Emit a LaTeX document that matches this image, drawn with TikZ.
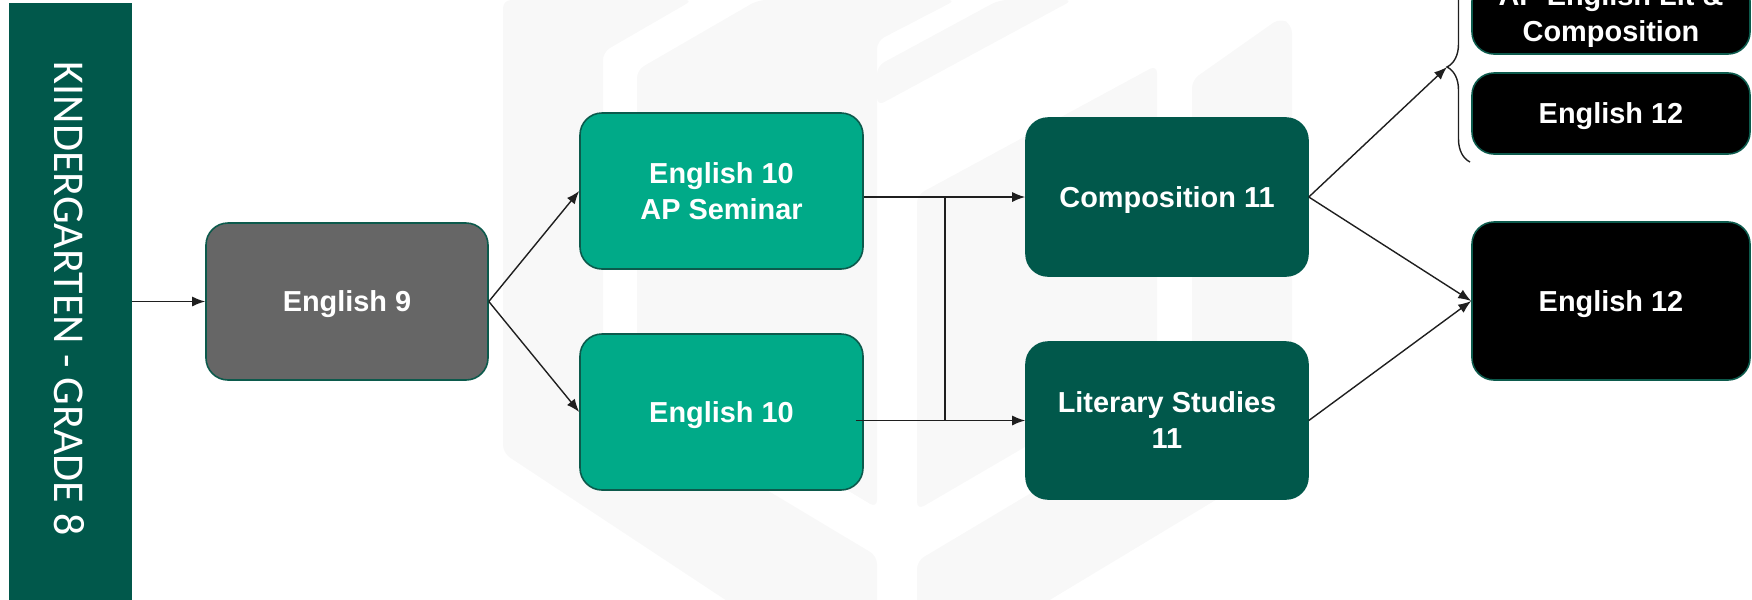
\documentclass[tikz,border=0pt]{standalone}
\usepackage{fontspec}
\setmainfont{Liberation Sans}
\newfontfamily\barfont{Carlito}
\usetikzlibrary{arrows.meta,decorations.pathreplacing}
\definecolor{dkgreen}{RGB}{1,88,75}
\definecolor{teal1}{RGB}{0,170,136}
\definecolor{grey1}{RGB}{102,102,102}
\definecolor{edge1}{RGB}{12,90,76}
\definecolor{wm}{RGB}{248,248,248}
\tikzset{
  box/.style={rounded corners=11pt, draw=edge1, line width=0.8pt, text=white,
    font=\fontsize{14.45}{18}\selectfont\bfseries, align=center, inner sep=0pt},
  oneline/.style={text depth=0pt},
  conn/.style={draw=black!88, line width=0.7pt, -{Latex[length=6.5pt,width=5pt]}},
  plain/.style={draw=black!88, line width=0.7pt},
}
\begin{document}
\begin{tikzpicture}[x=0.5pt,y=-0.5pt]
\useasboundingbox (0,0) rectangle (1752,600);
\clip (0,0) rectangle (1752,600);
% watermark
\begin{scope}[rounded corners=4pt]
\fill[wm] (503,0) -- (693,0) -- (603,52) -- (603,392) -- (877,556) -- (877,700) -- (503,453) -- cycle;
\fill[wm] (637,70) -- (758,0) -- (956,0) -- (877,41) -- (877,508) -- (637,364) -- cycle;
\fill[wm] (1192,80) -- (1280,18) -- (1292,25) -- (1292,454) -- (917,680) -- (917,561) -- (1192,397) -- cycle;
\fill[wm] (917,510) -- (917,195) -- (1157,65) -- (1157,370) -- cycle;
\fill[wm] (877,66) -- (999,0) -- (1073,0) -- (877,106) -- cycle;
\end{scope}
% left bar
\node[fill=dkgreen, minimum width=61.5pt, minimum height=298.5pt, inner sep=0pt] (bar) at (70.5,301.5) {};
\node[rotate=-90, text=white, font=\barfont\fontsize{22}{26}\selectfont] (bartext) at (69,298.5) {KINDERGARTEN - GRADE 8};
% boxes
\node[box, oneline, fill=grey1, minimum width=141pt, minimum height=78.5pt] (e9) at (347,301.5) {English 9};
\node[box, fill=teal1, minimum width=141.5pt, minimum height=78pt] (ap) at (721.5,191) {English 10\\AP Seminar};
\node[box, oneline, fill=teal1, minimum width=141.5pt, minimum height=78pt] (e10) at (721.5,412) {English 10};
\node[box, oneline, fill=dkgreen, draw=dkgreen, minimum width=141pt, minimum height=79pt] (comp) at (1167,197) {Composition 11};
\node[box, fill=dkgreen, draw=dkgreen, minimum width=141pt, minimum height=78.5pt] (lit) at (1167,420.5) {Literary Studies\\11};
\node[box, oneline, fill=black, minimum width=139pt, minimum height=79pt] (e12) at (1611,301) {English 12};
\node[box, fill=black, minimum width=139pt, minimum height=37.5pt] (apl) at (1611,16.5) {AP English Lit \&\\Composition};
\node[box, oneline, fill=black, minimum width=139pt, minimum height=40.5pt] (e12s) at (1611,113.5) {English 12};
% brace
\coordinate (brtop) at (1470,-28);
\coordinate (brbot) at (1470,162);
\coordinate (brtip) at (1447,67);
\draw[plain, decorate, decoration={brace, amplitude=11.5pt}] (brbot) -- (brtop);
% connectors
\coordinate (jx) at (945,0);
\draw[conn] (bar) -- (e9);
\draw[conn] (e9.east) -- (ap.west);
\draw[conn] (e9.east) -- (e10.west);
\draw[conn] (ap.east |- comp.west) -- (comp.west);
\draw[conn] ([xshift=-4pt]e10.east |- lit.west) -- (lit.west);
\draw[plain] (jx |- comp.west) -- (jx |- lit.west);
\draw[conn] (comp.east) -- (brtip);
\draw[conn] (comp.east) -- (e12.west);
\draw[conn] (lit.east) -- (e12.west);
\end{tikzpicture}
\end{document}
